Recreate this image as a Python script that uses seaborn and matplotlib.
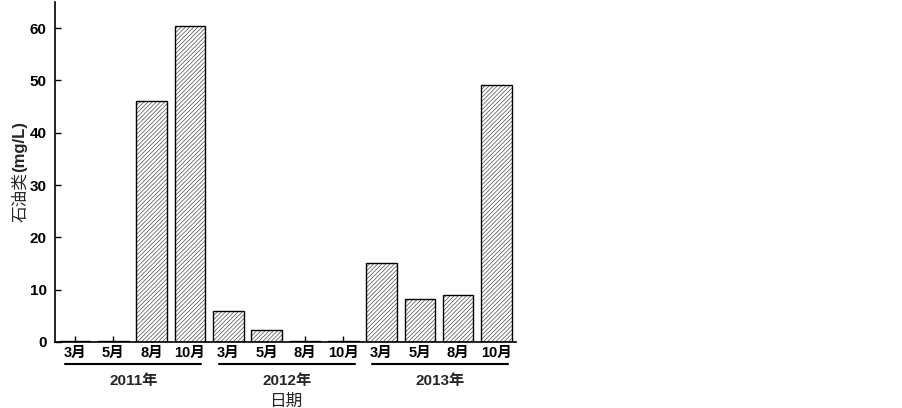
#!/usr/bin/env python3
# -*- coding: utf-8 -*-

import pandas as pd
import matplotlib.pyplot as plt
import seaborn as sns

# ------------------------------------------------------------------------------
# data
# ------------------------------------------------------------------------------

years = ['2011年', '2012年', '2013年']
months = ['3月', '5月', '8月', '10月']
oil_2011 = [0.2, 0.2, 46.0, 60.5]
oil_2012 = [6.0, 2.3, 0.1, 0.1]
oil_2013 = [15.0, 8.2, 9.0, 49.2]
y_ticks = [0, 10, 20, 30, 40, 50, 60]

rows = []
for year, vals in zip(years, [oil_2011, oil_2012, oil_2013]):
    for m, v in zip(months, vals):
        rows.append({'period': year + m, 'month': m, 'year': year, 'value': v})
df = pd.DataFrame(rows)

# ------------------------------------------------------------------------------
# plot
# ------------------------------------------------------------------------------

sns.set_style('ticks')
plt.rcParams['font.family'] = ['Liberation Sans', 'Noto Sans CJK SC', 'DejaVu Sans']
plt.rcParams['hatch.linewidth'] = 0.5
plt.rcParams['hatch.color'] = '#4a4a4a'

fig = plt.figure(figsize=(9.03, 4.08), dpi=100)
ax = fig.add_axes([0.061, 0.162, 0.510, 0.833])

# hatched fill, then black outline on top
sns.barplot(data=df, x='period', y='value', ax=ax, color='white', width=0.8,
            edgecolor='#4a4a4a', linewidth=0, hatch='////////', errorbar=None)
sns.barplot(data=df, x='period', y='value', ax=ax, fill=False, width=0.8,
            edgecolor='black', linewidth=1.0, errorbar=None)

ax.set_xlim(-0.52, 11.5)
ax.set_ylim(0, 65)
ax.set_yticks(y_ticks)
ax.set_xticks(range(len(df)))
ax.set_xticklabels(df['month'], fontweight='bold', fontsize=10.5)
for lbl in ax.get_yticklabels():
    lbl.set_fontweight('bold')
    lbl.set_fontsize(11)
ax.tick_params(direction='in', length=4, width=1, colors='black', pad=3)
ax.tick_params(axis='y', pad=6)
for s in ['top', 'right']:
    ax.spines[s].set_visible(False)
for s in ['left', 'bottom']:
    ax.spines[s].set_linewidth(1.2)
    ax.spines[s].set_color('black')

# y label: regular CJK part, bold unit part
ax.set_xlabel(None)
ax.set_ylabel(None)
ax.text(-0.076, 0.5, '石油类', transform=ax.transAxes, rotation=90,
        rotation_mode='anchor', ha='right', va='center', fontsize=12)
ax.text(-0.076, 0.5, '(mg/L)', transform=ax.transAxes, rotation=90,
        rotation_mode='anchor', ha='left', va='center', fontsize=12, fontweight='bold')

# year group lines and labels under the month labels
for i, year in enumerate(years):
    x0 = i * 4 - 0.25
    x1 = i * 4 + 3.3
    ax.plot([x0, x1], [-0.066, -0.066], color='black', linewidth=1.5,
            transform=ax.get_xaxis_transform(), clip_on=False)
    ax.text((x0 + x1) / 2, -0.095, year, transform=ax.get_xaxis_transform(),
            ha='center', va='top', fontsize=11, fontweight='bold')

ax.text(0.5, -0.152, '日期', transform=ax.transAxes, ha='center', va='top', fontsize=12)

plt.savefig('out.png', dpi=100)
plt.close()
